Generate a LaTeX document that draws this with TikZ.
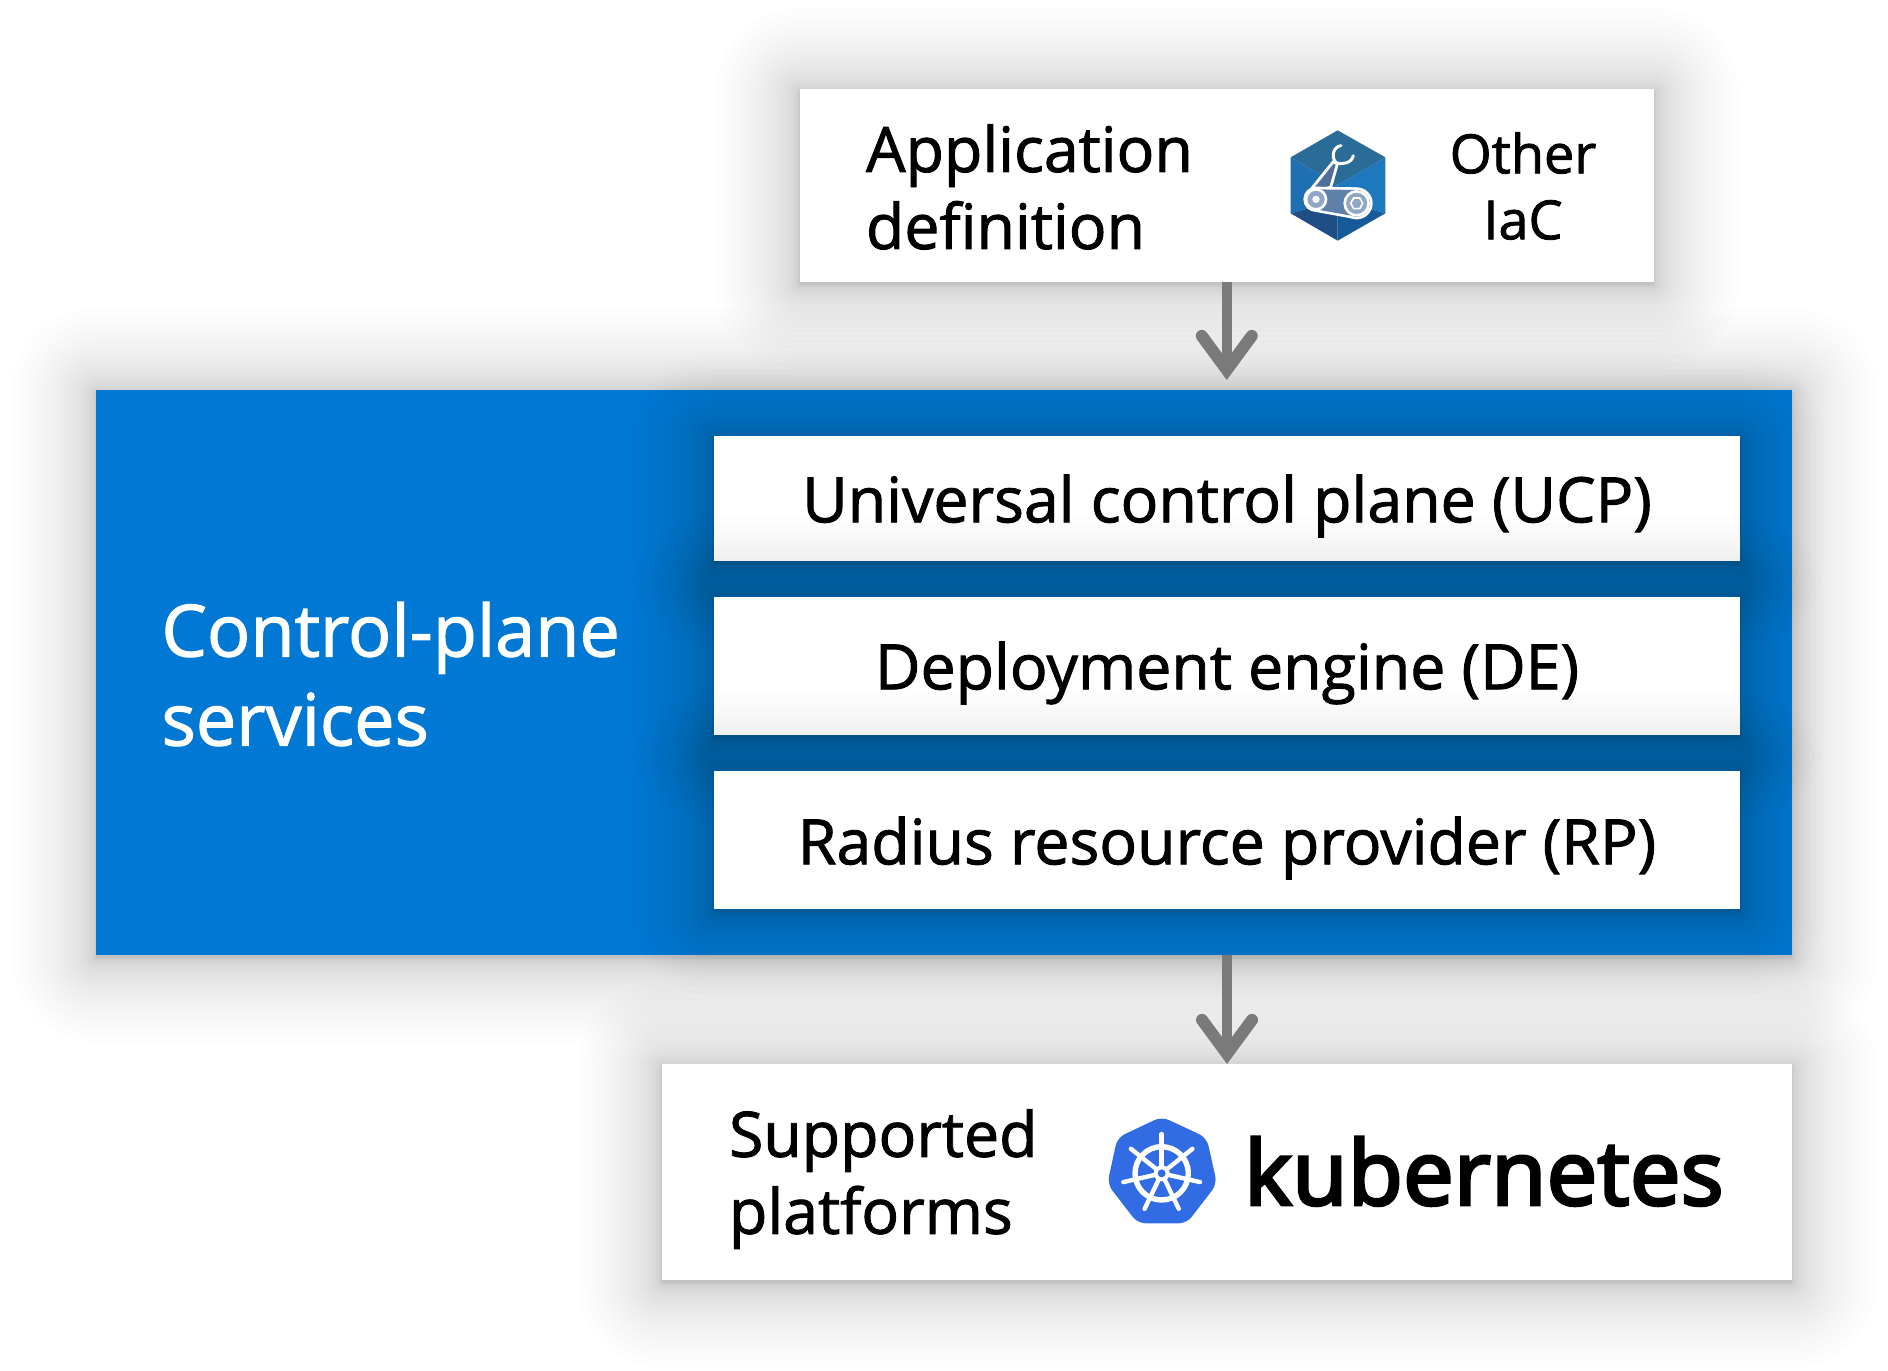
\documentclass[tikz,border=0pt]{standalone}
\usepackage{fontspec}
\setmainfont{Open Sans}[FakeBold=1.5]
\newfontfamily\kubefont{Noto Sans}[FakeBold=3]
\usetikzlibrary{arrows.meta}
\definecolor{azure}{HTML}{0078D4}
\definecolor{arrowgray}{HTML}{7A7A7A}
\definecolor{kblue}{HTML}{326CE5}
\definecolor{hexleft}{HTML}{1E70B2}
\definecolor{hexright}{HTML}{1E78BE}
\definecolor{hextop}{HTML}{2A6B98}
\definecolor{hexbl}{HTML}{1F4E85}
\definecolor{hexbr}{HTML}{175A9A}
\definecolor{toolarm}{HTML}{4E6E9C}
\definecolor{toolbelt}{HTML}{5F80A8}
\definecolor{toolwheel}{HTML}{8FA6C4}
\newcommand{\softshadow}[4]{%
  \foreach \i in {1,...,30}{%
    \pgfmathsetmacro{\e}{84*pow(\i/30,2.6)}%
    \pgfmathsetmacro{\rr}{\e*0.5}%
    \fill[black,opacity=0.0095,rounded corners=\rr pt]
      ({#1-\e},{#2-\e+3}) rectangle ({#3+\e},{#4+\e+3});
  }%
}
\tikzset{
  x=0.5pt,y=-0.5pt,
  whitebox/.style={fill=white,draw=none,inner sep=0pt,outer sep=0pt},
  bluebox/.style={fill=azure,draw=none,inner sep=0pt,outer sep=0pt},
  labeltext/.style={font=\fontsize{31.3}{38.5}\selectfont,text=black,inner sep=0pt,outer sep=0pt},
  sidetext/.style={labeltext,align=left,anchor=west},
  conn/.style={draw=arrowgray,line width=5.2pt,
    -{Straight Barb[length=17pt,width=25pt,line width=6pt,line cap=round,line join=miter]}},
}
\begin{document}
\begin{tikzpicture}
\useasboundingbox (0,0) rectangle (1888,1370);
\fill[white] (0,0) rectangle (1888,1370);
% outer soft shadows
\softshadow{96}{390}{1792}{955}
\softshadow{799.5}{89}{1654}{282}
\softshadow{662}{1064}{1792}{1280}
% boxes
\node[bluebox,minimum width=848pt,minimum height=282.5pt] (plane) at (944,672.5) {};
\node[whitebox,minimum width=427.25pt,minimum height=96.5pt] (top) at (1226.75,185.5) {};
\node[whitebox,minimum width=565pt,minimum height=108pt] (bottom) at (1227,1172) {};
% inner boxes, each shadow falling on what is below it
\softshadow{714}{436}{1740}{561}
\node[whitebox,minimum width=513pt,minimum height=62.5pt] (ucp) at (1227,498.5) {};
\softshadow{714}{597}{1740}{735}
\node[whitebox,minimum width=513pt,minimum height=69pt] (de) at (1227,666) {};
\softshadow{714}{771}{1740}{909}
\node[whitebox,minimum width=513pt,minimum height=69pt] (rp) at (1227,840) {};
% connectors
\draw[conn,shorten >=5pt] (top.south) -- (top.south |- plane.north);
\draw[conn] (bottom.north |- plane.south) -- (bottom.north);
% texts
\node[sidetext] (apptext) at (866,187) {Application\\definition};
\node[labeltext,align=center,font=\fontsize{27}{33}\selectfont] (iac) at (1523,186) {Other\\IaC};
\node[labeltext] (ucptext) at (1227,506) {Universal control plane (UCP)};
\node[labeltext] (detext) at (1227,673) {Deployment engine (DE)};
\node[labeltext] (rptext) at (1227,848) {Radius resource provider (RP)};
\node[sidetext,text=white,font=\fontsize{36}{44.5}\selectfont] (cptext) at (161.5,674) {Control-plane\\services};
\node[sidetext] (suptext) at (729,1179) {Supported\\platforms};
\node[labeltext,font=\kubefont\fontsize{45}{50}\selectfont,anchor=base west] (kube) at (1244,1205) {kubernetes};
% tool icon
\begin{scope}[shift={(1240,100)},scale=1/3]
  \fill[hexleft] (152,172) -- (293,255) -- (293,300) -- (152,340) -- cycle;
  \fill[hexright] (436,172) -- (293,255) -- (293,300) -- (436,340) -- cycle;
  \fill[hextop] (293,91) -- (436,172) -- (293,255) -- (152,172) -- cycle;
  \fill[hexbl] (152,340) -- (293,300) -- (293,422) -- cycle;
  \fill[hexbr] (436,340) -- (293,300) -- (293,422) -- cycle;
  \draw[white,line width=1.4pt,fill=toolarm,line join=round]
     (205,278) -- (280,185) -- (292,192) -- (272,262) -- cycle;
  \draw[white,line width=1.5pt,line cap=round,line join=round]
     (303,137) .. controls (280,140) and (272,170) .. (288,188) .. controls (305,195) and (335,190) .. (340,167);
  % belt: white hull, then coloured interior
  \fill[white] (228,298) circle (38) (350,310) circle (48);
  \fill[white] (228,260) -- (350,262) -- (350,358) -- (228,336) -- cycle;
  \fill[toolbelt] (228,268) -- (350,270) -- (350,350) -- (228,328) -- cycle;
  \fill[toolbelt] (350,310) circle (40);
  \draw[white,line width=1.3pt,fill=toolwheel] (228,298) circle (30);
  \fill[white] (228,298) circle (11);
  \draw[white,line width=1.3pt,fill=toolwheel] (350,310) circle (36);
  \draw[white,line width=0.8pt,fill=toolwheel]
     (332,310) -- (341,294) -- (359,294) -- (368,310) -- (359,326) -- (341,326) -- cycle;
\end{scope}
% kubernetes icon
\begin{scope}[shift={(1080,1090)},scale=1/3]
  \fill[kblue,rounded corners=4pt] (245,80) -- (380,143) -- (411,282) -- (320,400) -- (173,400) -- (82,282) -- (112,143) -- cycle;
  \draw[white,line width=2.7pt] (245,250) circle (80);
  \foreach \a in {0,51.43,102.86,154.29,205.71,257.14,308.57}{
    \draw[white,line width=2.2pt,line cap=round]
      ({245+18*sin(\a)},{250-18*cos(\a)}) -- ({245+118*sin(\a)},{250-118*cos(\a)});
  }
  \fill[white] (245,250) circle (24);
  \fill[kblue] (245,250) circle (12);
\end{scope}
\end{tikzpicture}
\end{document}
